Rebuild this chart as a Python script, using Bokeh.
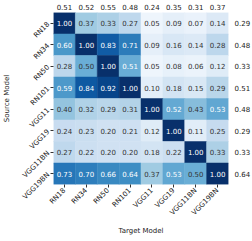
import math
from bokeh.plotting import figure
from bokeh.models import ColumnDataSource, LinearAxis, Range1d, FixedTicker
from bokeh.transform import linear_cmap
from bokeh.palettes import Blues256
from bokeh.core.properties import value
from bokeh.embed import file_html
from bokeh.resources import INLINE

models = ["RN18", "RN34", "RN50", "RN101", "VGG11", "VGG19", "VGG11BN", "VGG19BN"]

rn18 = [1.00, 0.37, 0.33, 0.27, 0.05, 0.09, 0.07, 0.14]
rn34 = [0.60, 1.00, 0.83, 0.71, 0.09, 0.16, 0.14, 0.28]
rn50 = [0.28, 0.50, 1.00, 0.51, 0.05, 0.08, 0.06, 0.12]
rn101 = [0.59, 0.84, 0.92, 1.00, 0.10, 0.18, 0.15, 0.29]
vgg11 = [0.40, 0.32, 0.29, 0.31, 1.00, 0.52, 0.43, 0.53]
vgg19 = [0.24, 0.23, 0.20, 0.21, 0.12, 1.00, 0.11, 0.25]
vgg11bn = [0.27, 0.22, 0.20, 0.20, 0.18, 0.22, 1.00, 0.33]
vgg19bn = [0.73, 0.70, 0.66, 0.64, 0.37, 0.53, 0.50, 1.00]

col_means = [0.51, 0.52, 0.55, 0.48, 0.24, 0.35, 0.31, 0.37]
row_means = [0.29, 0.48, 0.33, 0.51, 0.48, 0.29, 0.33, 0.64]

rows = [rn18, rn34, rn50, rn101, vgg11, vgg19, vgg11bn, vgg19bn]
n = len(models)
pos = [i + 0.5 for i in range(n)]

xs, ys, val, lab, tcol = [], [], [], [], []
for i, r in enumerate(rows):
    for j, v in enumerate(r):
        xs.append(pos[j])
        ys.append(pos[i])
        val.append(v)
        lab.append(f"{v:.2f}")
        tcol.append("white" if v > 0.505 else "#333333")

source = ColumnDataSource(dict(x=xs, y=ys, val=val, lab=lab, tcol=tcol))

FONT = "DejaVu Sans"

p = figure(width=236, height=225, output_backend="svg", toolbar_location=None,
           x_range=Range1d(0, n), y_range=Range1d(n, 0),
           x_axis_location=None, y_axis_location=None,
           min_border_left=35, min_border_right=26, min_border_top=12, min_border_bottom=41)
p.frame_width = 175
p.frame_height = 172

cmap = linear_cmap("val", Blues256[::-1], low=0.0, high=1.0)
p.rect(x="x", y="y", width=1, height=1, source=source,
       fill_color=cmap, line_color=cmap, line_width=0.5)
p.text(x="x", y="y", text="lab", source=source, text_color="tcol",
       text_font=value(FONT), text_font_size="7px",
       text_align="center", text_baseline="middle")

p.grid.grid_line_color = None
p.outline_line_color = None

tick = FixedTicker(ticks=pos, minor_ticks=[])
names = {k: m for k, m in zip(pos, models)}

bottom = LinearAxis(ticker=tick, major_label_overrides=names, axis_label="Target Model")
left = LinearAxis(ticker=tick, major_label_overrides=names, axis_label="Source Model")
for ax in (bottom, left):
    ax.axis_line_color = None
    ax.major_tick_in = 0
    ax.major_tick_out = 3
    ax.minor_tick_line_color = None
    ax.major_tick_line_color = "#333333"
    ax.major_label_text_font = FONT
    ax.major_label_text_font_size = "7px"
    ax.major_label_text_color = "#222222"
    ax.major_label_orientation = math.pi / 4
    ax.axis_label_text_font = FONT
    ax.axis_label_text_font_size = "7px"
    ax.axis_label_text_font_style = "normal"
    ax.axis_label_text_color = "#222222"
    ax.major_label_standoff = 2
bottom.axis_label_standoff = 4
left.axis_label_standoff = 4
p.add_layout(bottom, "below")
p.add_layout(left, "left")

top = LinearAxis(ticker=tick, major_label_overrides={k: f"{v:.2f}" for k, v in zip(pos, col_means)})
right = LinearAxis(ticker=tick, major_label_overrides={k: f"{v:.2f}" for k, v in zip(pos, row_means)})
for ax in (top, right):
    ax.axis_line_color = None
    ax.major_tick_line_color = None
    ax.minor_tick_line_color = None
    ax.major_tick_in = 0
    ax.major_tick_out = 0
    ax.major_label_text_font = FONT
    ax.major_label_text_font_size = "7px"
    ax.major_label_text_color = "#222222"
top.major_label_standoff = 3
right.major_label_standoff = 6
p.add_layout(top, "above")
p.add_layout(right, "right")

open("out.html", "w").write(file_html(p, INLINE))
